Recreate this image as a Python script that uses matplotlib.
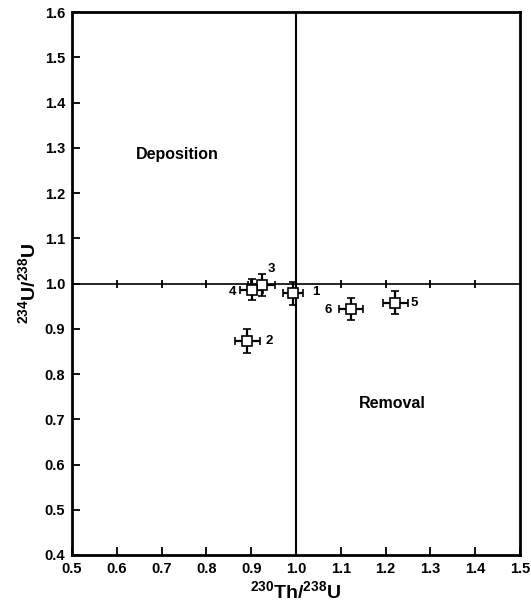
import matplotlib
matplotlib.use("Agg")
import matplotlib.pyplot as plt
import numpy as np

plt.rcParams['font.family'] = ['Liberation Sans', 'DejaVu Sans']
plt.rcParams['font.weight'] = 'bold'
plt.rcParams['mathtext.fontset'] = 'custom'
plt.rcParams['mathtext.rm'] = 'Liberation Sans:bold'
plt.rcParams['mathtext.bf'] = 'Liberation Sans:bold'
plt.rcParams['mathtext.default'] = 'bf'

# Data
sample_ids = ['1', '2', '3', '4', '5', '6']
th_u = [0.993, 0.891, 0.923, 0.901, 1.222, 1.122]
u_u = [0.978, 0.873, 0.997, 0.986, 0.958, 0.943]
th_u_err = [0.023, 0.028, 0.030, 0.025, 0.027, 0.027]
u_u_err = [0.025, 0.027, 0.025, 0.023, 0.025, 0.024]
label_dx = [0.051, 0.050, 0.022, -0.043, 0.042, -0.050]
label_dy = [0.003, 0.000, 0.034, -0.004, 0.000, -0.001]

x_ticks = [0.5, 0.6, 0.7, 0.8, 0.9, 1.0, 1.1, 1.2, 1.3, 1.4, 1.5]
y_ticks = [0.4, 0.5, 0.6, 0.7, 0.8, 0.9, 1.0, 1.1, 1.2, 1.3, 1.4, 1.5, 1.6]

fig = plt.figure(figsize=(5.31, 6.05), dpi=100)
ax = fig.add_axes([72/531, 50/605, 448/531, 543/605])

ax.set_xlim(0.5, 1.5)
ax.set_ylim(0.4, 1.6)

# reference lines
ax.axhline(1.0, color='black', lw=1.2, zorder=1)
ax.axvline(1.0, color='black', lw=1.5, zorder=1)
ax.plot(x_ticks[1:-1], [1.0]*len(x_ticks[1:-1]), linestyle='none', marker='|',
        markersize=6, color='black', markeredgewidth=1.3, zorder=1)

ax.errorbar(th_u, u_u, xerr=th_u_err, yerr=u_u_err, fmt='s', mfc='white',
            mec='black', ecolor='black', markersize=7, markeredgewidth=1.2,
            elinewidth=1.6, capsize=3.2, capthick=1.6, zorder=3)

for sid, x, y, dx, dy in zip(sample_ids, th_u, u_u, label_dx, label_dy):
    ax.text(x + dx, y + dy, sid, ha='center', va='center', fontsize=9.5,
            fontweight='bold')

ax.text(0.735, 1.284, 'Deposition', ha='center', va='center', fontsize=11.5,
        fontweight='bold')
ax.text(1.214, 0.734, 'Removal', ha='center', va='center', fontsize=11.5,
        fontweight='bold')

ax.set_xticks(x_ticks)
ax.set_yticks(y_ticks)
ax.set_xticklabels([f'{v:.1f}' for v in x_ticks], fontsize=10.5, fontweight='bold')
ax.set_yticklabels([f'{v:.1f}' for v in y_ticks], fontsize=10.5, fontweight='bold')
ax.tick_params(direction='in', length=6, width=1.3, pad=5)

for s in ax.spines.values():
    s.set_linewidth(2.0)

ax.set_xlabel(r'$^{230}$Th/$^{238}$U', fontsize=14, fontweight='bold', labelpad=3)
ax.set_ylabel(r'$^{234}$U/$^{238}$U', fontsize=14, fontweight='bold', labelpad=4)

fig.savefig('out.png', dpi=100)
